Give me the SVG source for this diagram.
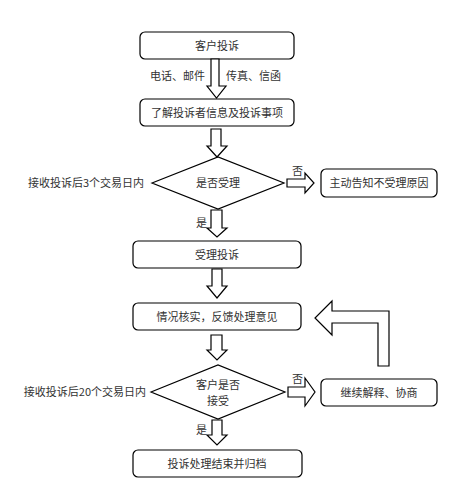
<svg xmlns="http://www.w3.org/2000/svg" width="462" height="500" viewBox="0 0 462 500">
<style>
.box{fill:#fff;stroke:#000;stroke-width:1.2}
.arr{fill:#fff;stroke:#000;stroke-width:1.2;stroke-linejoin:miter}
text{font-family:"Noto Sans CJK SC","Liberation Serif",serif;font-size:11px;fill:#333}
.c{text-anchor:middle}
.e{text-anchor:end}
</style>
<rect width="462" height="500" fill="#fff"/>
<g id="n1"><rect class="box" x="140" y="32" width="154" height="27" rx="5"/><text class="c" x="217" y="49.5">客户投诉</text></g>
<g id="n2"><rect class="box" x="140" y="99" width="154" height="27" rx="5"/><text class="c" x="217" y="116.5">了解投诉者信息及投诉事项</text></g>
<g id="d1"><polygon class="box" points="152,183 218,157 284,183 218,209"/><text class="c" x="218" y="187">是否受理</text></g>
<g id="n3"><rect class="box" x="321" y="169" width="116" height="28" rx="5"/><text class="c" x="379" y="187">主动告知不受理原因</text></g>
<g id="n4"><rect class="box" x="133" y="241" width="168" height="27" rx="5"/><text class="c" x="217" y="258.5">受理投诉</text></g>
<g id="n5"><rect class="box" x="133" y="303" width="168" height="27" rx="5"/><text class="c" x="217" y="320.5">情况核实，反馈处理意见</text></g>
<g id="d2"><polygon class="box" points="151,392 218,365 285,392 218,419"/><text class="c" x="218" y="389">客户是否</text><text class="c" x="218" y="405">接受</text></g>
<g id="n6"><rect class="box" x="321" y="379" width="116" height="27" rx="5"/><text class="c" x="379" y="396.5">继续解释、协商</text></g>
<g id="n7"><rect class="box" x="133" y="450" width="169" height="27" rx="5"/><text class="c" x="217" y="467.5">投诉处理结束并归档</text></g>
<g id="connectors">
<polygon class="arr" points="211,59 219,59 219,86 226,86 216.5,98 207,86 211,86"/>
<polygon class="arr" points="211,129 221,129 221,146 227,146 217,157 207,146 211,146"/>
<polygon class="arr" points="287,179 305,179 305,173 314,183 305,193 305,187 287,187"/>
<polygon class="arr" points="211,210 222,210 222,228 227,228 217,237 207,228 211,228"/>
<polygon class="arr" points="212,269 222,269 222,286 227,286 217,298 207,286 212,286"/>
<polygon class="arr" points="211,335 222,335 222,350 227,350 217,360 207,350 211,350"/>
<polygon class="arr" points="288,387 305,387 305,378 315,392 305,406 305,397 288,397"/>
<polygon class="arr" points="212,420 222,420 222,435 227,435 217,445 207,435 212,435"/>
<polygon class="arr" points="378,366 389,366 389,311 332,311 332,301 315,318 332,335 332,323 378,323"/>
<text class="e" x="205" y="80">电话、邮件</text>
<text x="226" y="80">传真、信函</text>
<text class="e" x="144" y="187">接收投诉后3个交易日内</text>
<text x="292" y="175">否</text>
<text x="196" y="227">是</text>
<text class="e" x="146" y="396">接收投诉后20个交易日内</text>
<text x="292" y="383">否</text>
<text x="196" y="434">是</text>
</g>
</svg>
